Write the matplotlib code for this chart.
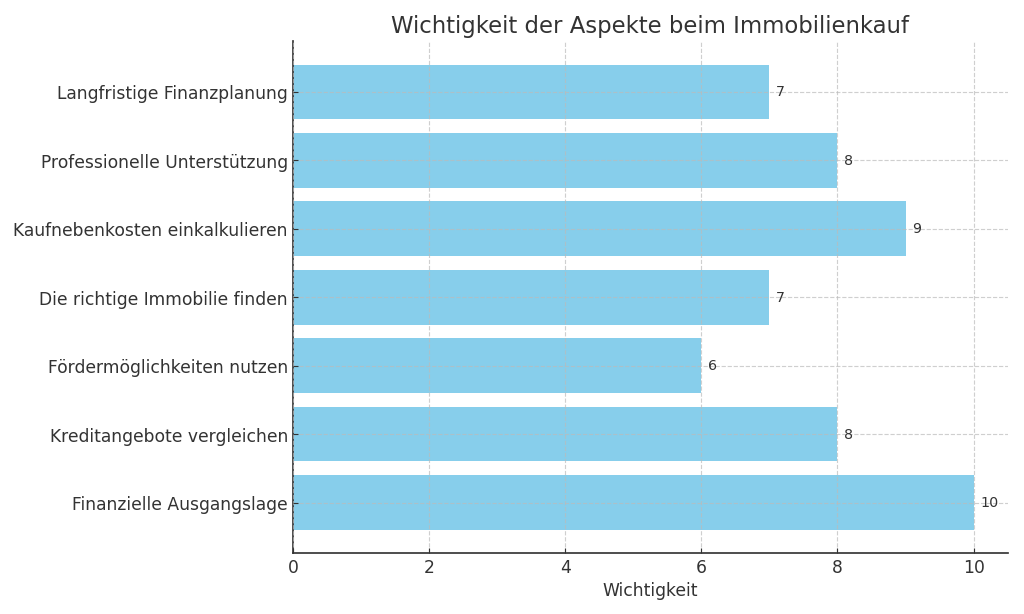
import matplotlib
matplotlib.use("Agg")
import matplotlib.pyplot as plt

categories = [
    "Finanzielle Ausgangslage",
    "Kreditangebote vergleichen",
    "Fördermöglichkeiten nutzen",
    "Die richtige Immobilie finden",
    "Kaufnebenkosten einkalkulieren",
    "Professionelle Unterstützung",
    "Langfristige Finanzplanung",
]
values = [10, 8, 6, 7, 9, 8, 7]

plt.rcParams['font.family'] = ['DejaVu Sans']
txt = '#333333'
fig = plt.figure(figsize=(10, 6), dpi=102.4)
ax = fig.add_axes([0.286, 0.099, 0.698, 0.833])
bars = ax.barh(categories, values, color='skyblue', height=0.8, zorder=1)
ax.grid(True, linestyle='--', color='#bbbbbb', alpha=0.7, linewidth=0.8, zorder=2)
ax.set_axisbelow(False)
for b, v in zip(bars, values):
    ax.text(v + 0.1, b.get_y() + b.get_height() / 2, str(v), va='center', ha='left',
            fontsize=10, color=txt, zorder=3)
ax.set_title("Wichtigkeit der Aspekte beim Immobilienkauf", fontsize=16, color=txt)
ax.set_xlabel("Wichtigkeit", fontsize=12, color=txt)
ax.tick_params(axis='both', labelsize=12, colors=txt, direction='in')
ax.spines['top'].set_visible(False)
ax.spines['right'].set_visible(False)
for s in ('left', 'bottom'):
    ax.spines[s].set_color(txt)
    ax.spines[s].set_linewidth(1.2)
fig.savefig("out.png", dpi=102.4)
